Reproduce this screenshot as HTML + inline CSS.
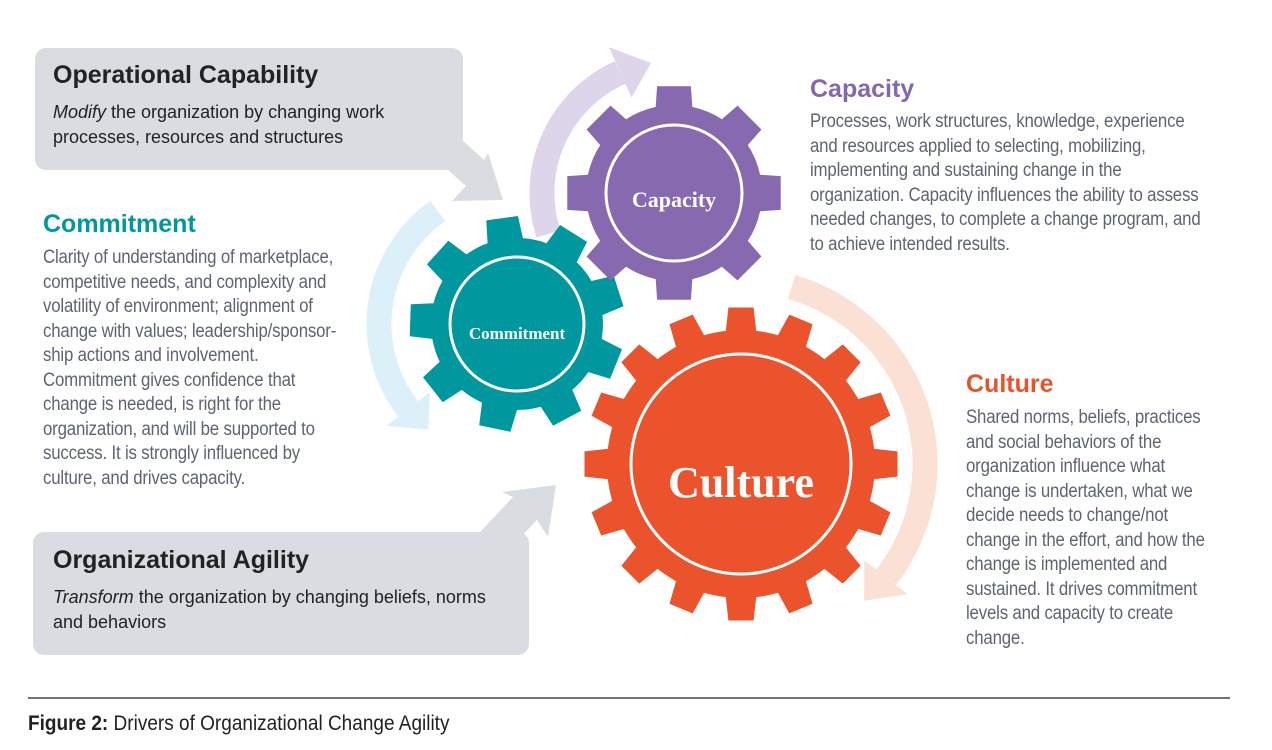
<!DOCTYPE html>
<html><head><meta charset="utf-8"><style>
body{margin:0;width:1272px;height:750px;background:#fff;position:relative;overflow:hidden;font-family:"Liberation Sans",sans-serif}
.t{position:absolute;font-family:"Liberation Sans",sans-serif;font-size:19px;line-height:24.5px;color:#5d6472;letter-spacing:-0.2px;transform:scaleX(0.885);transform-origin:0 0;white-space:nowrap}
.h{position:absolute;font-weight:bold;font-size:25px;font-family:"Liberation Sans",sans-serif}
.bx{position:absolute;font-family:"Liberation Sans",sans-serif;color:#222}
svg{position:absolute;left:0;top:0}
</style></head><body>
<svg width="1272" height="750" id="s">
<rect x="35" y="48" width="428" height="122" rx="11" fill="#d9dce0"/>
<polygon points="430,170 462,140 484,160 488,153 503,200 452,201 466,186 448,170" fill="#d9dce0"/>
<rect x="33" y="532" width="496" height="123" rx="11" fill="#d9dce0"/>
<polygon points="480,532 513,497 502,492 556,485 548,537 537,520 510,548 510,532" fill="#d9dce0"/>
<g id="g"></g>
<line x1="28" y1="698" x2="1230" y2="698" stroke="#222" stroke-width="1.3"/>
<text x="674" y="207" fill="#fff" font-family="Liberation Serif,serif" font-weight="bold" font-size="22" text-anchor="middle">Capacity</text>
<text x="517" y="339" fill="#fff" font-family="Liberation Serif,serif" font-weight="bold" font-size="17" text-anchor="middle">Commitment</text>
<text x="741" y="497" fill="#fff" font-family="Liberation Serif,serif" font-weight="bold" font-size="44" text-anchor="middle">Culture</text>
</svg>
<div class="bx" style="left:53px;top:61px;font-size:25px;font-weight:bold">Operational Capability</div>
<div class="bx" style="left:53px;top:100px;font-size:18px;line-height:24.5px"><i>Modify</i> the organization by changing work<br>processes, resources and structures</div>
<div class="bx" style="left:53px;top:546px;font-size:25px;font-weight:bold">Organizational Agility</div>
<div class="bx" style="left:53px;top:585px;font-size:18px;line-height:24.5px"><i>Transform</i> the organization by changing beliefs, norms<br>and behaviors</div>
<div class="h" style="left:810px;top:75px;color:#8567ad">Capacity</div>
<div class="t" style="left:810px;top:110px">Processes, work structures, knowledge, experience<br>and resources applied to selecting, mobilizing,<br>implementing and sustaining change in the<br>organization. Capacity influences the ability to assess<br>needed changes, to complete a change program, and<br>to achieve intended results.</div>
<div class="h" style="left:43px;top:210px;color:#00979d">Commitment</div>
<div class="t" style="left:43px;top:246px">Clarity of understanding of marketplace,<br>competitive needs, and complexity and<br>volatility of environment; alignment of<br>change with values; leadership/sponsor-<br>ship actions and involvement.<br>Commitment gives confidence that<br>change is needed, is right for the<br>organization, and will be supported to<br>success. It is strongly influenced by<br>culture, and drives capacity.</div>
<div class="h" style="left:966px;top:370px;color:#e9532b">Culture</div>
<div class="t" style="left:966px;top:406px">Shared norms, beliefs, practices<br>and social behaviors of the<br>organization influence what<br>change is undertaken, what we<br>decide needs to change/not<br>change in the effort, and how the<br>change is implemented and<br>sustained. It drives commitment<br>levels and capacity to create<br>change.</div>
<div style="position:absolute;left:28px;top:712px;font-family:'Liberation Sans',sans-serif;font-size:21px;color:#222;transform:scaleX(0.905);transform-origin:0 0;white-space:nowrap"><b>Figure 2:</b> Drivers of Organizational Change Agility</div>
<script>
var g=document.getElementById('g'),NS='http://www.w3.org/2000/svg';
function add(tag,a){var e=document.createElementNS(NS,tag);for(var k in a)e.setAttribute(k,a[k]);g.appendChild(e);return e;}
function P(cx,cy,r,deg){var a=(deg-90)*Math.PI/180;return [cx+r*Math.cos(a),cy+r*Math.sin(a)];}
function arc(cx,cy,r,a0,a1,w,col,tip){
 var d='',n=40;for(var i=0;i<=n;i++){var p=P(cx,cy,r,a0+(a1-a0)*i/n);d+=(i?'L':'M')+p[0].toFixed(1)+','+p[1].toFixed(1);}
 add('path',{d:d,fill:'none',stroke:col,'stroke-width':w});
 var s=a1>a0?1:-1,b1=P(cx,cy,r-w*1.1,a1),b2=P(cx,cy,r+w*1.1,a1),t=P(cx,cy,r,a1+s*tip);
 add('polygon',{points:[b1,b2,t].map(function(p){return p.join(',')}).join(' '),fill:col});
}
arc(674,193,132,-108,-24,25,'#ddd6ea',14);
arc(517,324,138,-35,-128,25,'#dcf0fa',12);
arc(741,464,184,16,128,25,'#fbe1d3',10);
function gear(cx,cy,rb,rt,n,off,hb,ht,col,rc){
 var pts=[],st=360/n;
 for(var i=0;i<n;i++){var a=off+i*st;
  pts.push(P(cx,cy,rb,a-hb),P(cx,cy,rt,a-ht),P(cx,cy,rt,a+ht),P(cx,cy,rb,a+hb));
  for(var j=1;j<4;j++)pts.push(P(cx,cy,rb,a+hb+(st-2*hb)*j/4));}
 add('polygon',{points:pts.map(function(p){return p[0].toFixed(1)+','+p[1].toFixed(1)}).join(' '),fill:col});
 add('circle',{cx:cx,cy:cy,r:rc,fill:col,stroke:'#fff','stroke-width':3});
}
gear(741,464,134,157,16,0,6.5,4.6,'#ea532c',110);
gear(517,324,86,108,9,-8,12,8.5,'#00979e',67);
gear(674,193,88,108,8,0,12,9,'#8669ae',68);
</script>
</body></html>
